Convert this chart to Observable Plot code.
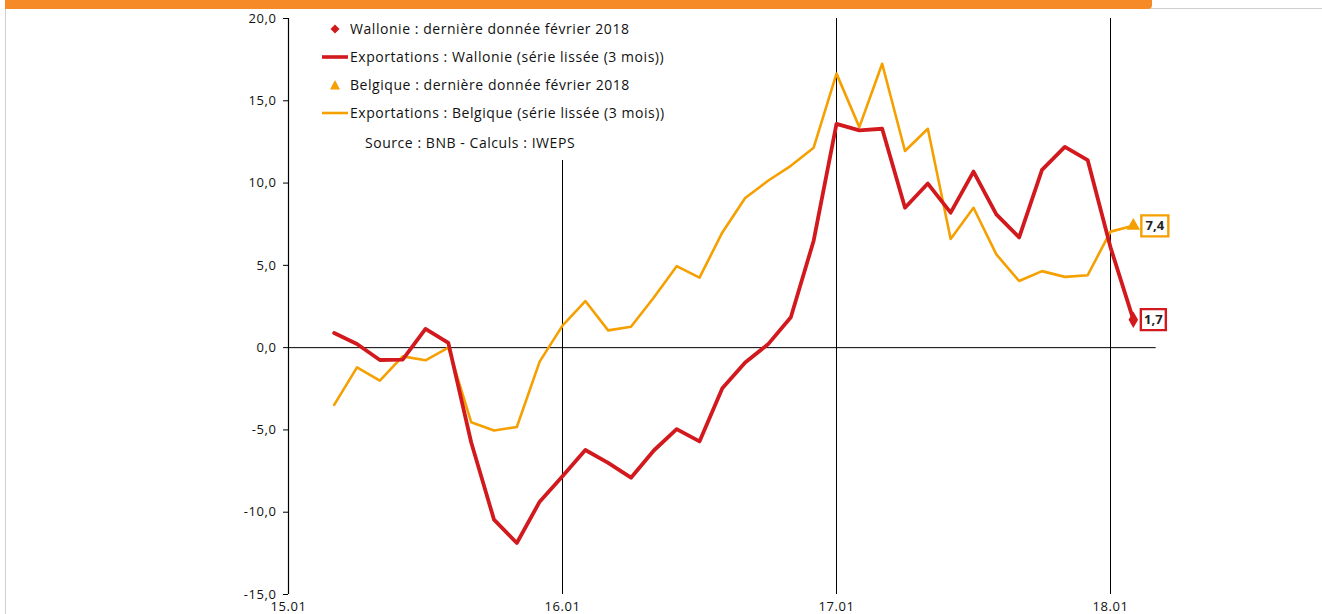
<!DOCTYPE html>
<html><head><meta charset="utf-8">
<script src="https://cdn.jsdelivr.net/npm/d3@7"></script>
<script src="https://cdn.jsdelivr.net/npm/@observablehq/plot@0.6"></script>
<style>
body{margin:0;background:#fff;font-family:"Open Sans",sans-serif;}
#wrap{position:relative;width:1322px;height:614px;overflow:hidden;background:#fff;}
#card{position:absolute;left:5px;top:8px;width:1330px;height:700px;border-left:1px solid #cfcfcf;border-top:1px solid #cfcfcf;}
#chart{position:absolute;left:0;top:0;}
#chart g[aria-label="y-axis tick label"] text, #chart g[aria-label="x-axis tick label"] text{letter-spacing:0.6px;}
#bar{position:absolute;left:5px;top:0;width:1147px;height:9px;background:#F58A27;border-bottom-right-radius:4px;}
#legend{position:absolute;left:298px;top:15px;width:390px;height:145px;background:#fff;}
.lg{position:absolute;font-size:14px;font-weight:500;letter-spacing:0.55px;color:#111;white-space:nowrap;line-height:16px;}
.sym{position:absolute;}
</style></head><body>
<div id="wrap">
  <div id="card"></div>
  <div id="chart"></div>
  <div id="bar"></div>
  <div id="legend"></div>
</div>
<script>
const months = ["2015-03","2015-04","2015-05","2015-06","2015-07","2015-08","2015-09","2015-10","2015-11","2015-12",
  "2016-01","2016-02","2016-03","2016-04","2016-05","2016-06","2016-07","2016-08","2016-09","2016-10","2016-11","2016-12",
  "2017-01","2017-02","2017-03","2017-04","2017-05","2017-06","2017-07","2017-08","2017-09","2017-10","2017-11","2017-12",
  "2018-01","2018-02"];
const wallonie = [0.89,0.22,-0.75,-0.73,1.14,0.29,-5.75,-10.45,-11.87,-9.36,
  -7.82,-6.22,-7.0,-7.9,-6.25,-4.95,-5.7,-2.47,-0.9,0.2,1.85,6.5,
  13.6,13.2,13.3,8.5,9.97,8.2,10.7,8.1,6.7,10.8,12.2,11.4,
  6.1,1.7];
const belgique = [-3.48,-1.2,-2.0,-0.53,-0.77,0.0,-4.53,-5.04,-4.82,-0.85,
  1.34,2.83,1.05,1.27,3.05,4.95,4.25,7.0,9.09,10.14,11.05,12.15,
  16.65,13.4,17.25,11.95,13.3,6.6,8.5,5.67,4.05,4.65,4.3,4.4,
  7.05,7.4];
const xTickMonths = ["2015-01","2016-01","2017-01","2018-01"];
const xTickLabels = ["15.01","16.01","17.01","18.01"];
const yTicks = [-15,-10,-5,0,5,10,15,20];
const axisEndMonth = "2018-03";
const legendItems = [
  {type:"diamond", color:"red", label:"Wallonie : dernière donnée février 2018"},
  {type:"line", color:"red", label:"Exportations : Wallonie (série lissée (3 mois))"},
  {type:"triangle", color:"orange", label:"Belgique : dernière donnée février 2018"},
  {type:"line", color:"orange", label:"Exportations : Belgique (série lissée (3 mois))"}
];
const sourceText = "Source : BNB - Calculs : IWEPS";

const RED = "#D2191E", ORANGE = "#F5A000";
const colors = {red: RED, orange: ORANGE};
const idx = s => { const [y, m] = s.split("-").map(Number); return (y - 2015) * 12 + (m - 1); };
const fmt = v => v.toFixed(1).replace(".", ",");
const data = months.map((m, i) => ({t: idx(m), w: wallonie[i], b: belgique[i]}));
const last = data[data.length - 1];
const tickIdx = xTickMonths.map(idx);
const boxSym = (w, h) => ({draw(ctx){ ctx.rect(-w/2, -h/2, w, h); }});

const plot = Plot.plot({
  width: 1322, height: 614,
  marginLeft: 288, marginRight: 212, marginTop: 18, marginBottom: 20,
  x: {domain: [tickIdx[0], tickIdx[3]], range: [288, 1110], label: null},
  y: {domain: [-15, 20], range: [594, 18], label: null},
  style: {fontFamily: '"Open Sans", sans-serif', background: "transparent", color: "#111"},
  marks: [
    Plot.ruleX(tickIdx.slice(1), {y1: -15, y2: 20, stroke: "#000", strokeWidth: 1}),
    Plot.ruleX([tickIdx[0]], {y1: -15, y2: 20, stroke: "#000", strokeWidth: 1.2}),
    Plot.ruleY([0], {x1: tickIdx[0], x2: idx(axisEndMonth), stroke: "#000", strokeWidth: 1}),
    Plot.axisY({ticks: yTicks, tickFormat: fmt, tickSize: 5, tickPadding: 7, fontSize: 13, fontWeight: 500, stroke: "#000", label: null}),
    Plot.axisX({ticks: tickIdx, tickFormat: d => xTickLabels[tickIdx.indexOf(d)], tickSize: 0, tickPadding: 7, fontSize: 13, fontWeight: 500, label: null}),
    Plot.line(data, {x: "t", y: "b", stroke: ORANGE, strokeWidth: 2.6}),
    Plot.line(data, {x: "t", y: "w", stroke: RED, strokeWidth: 3.8}),
    Plot.dot([last], {x: "t", y: "w", symbol: "diamond", fill: RED, r: 5}),
    Plot.dot([last], {x: "t", y: "b", symbol: "triangle", fill: ORANGE, r: 5}),
    Plot.dot([last], {x: "t", y: "b", symbol: boxSym(27, 21), fill: "#fff", stroke: ORANGE, strokeWidth: 2.4, dx: 21.5}),
    Plot.dot([last], {x: "t", y: "w", symbol: boxSym(25, 21), fill: "#fff", stroke: RED, strokeWidth: 2.4, dx: 20}),
    Plot.text([last], {x: "t", y: "b", text: d => fmt(d.b), dx: 21.5, fontSize: 13, fontWeight: "bold", fill: "#222"}),
    Plot.text([last], {x: "t", y: "w", text: d => fmt(d.w), dx: 20, fontSize: 13, fontWeight: "bold", fill: "#222"})
  ]
});
document.getElementById("chart").appendChild(plot);

// legend overlay
const wrap = document.getElementById("wrap");
const rowY = [29, 57, 85, 113];
legendItems.forEach((it, i) => {
  const c = colors[it.color];
  const y = rowY[i];
  const s = document.createElementNS("http://www.w3.org/2000/svg", "svg");
  s.setAttribute("class", "sym");
  s.setAttribute("width", 30); s.setAttribute("height", 12);
  s.style.left = "320px"; s.style.top = (y - 6) + "px";
  if (it.type === "line") {
    s.innerHTML = `<line x1="2" x2="28" y1="6" y2="6" stroke="${c}" stroke-width="${it.color === "red" ? 3.6 : 2.6}"/>`;
  } else if (it.type === "diamond") {
    s.innerHTML = `<path d="M15,1.5 L19.5,6 L15,10.5 L10.5,6 Z" fill="${c}"/>`;
  } else {
    s.innerHTML = `<path d="M15,1 L20,10.5 L10,10.5 Z" fill="${c}"/>`;
  }
  wrap.appendChild(s);
  const t = document.createElement("div");
  t.className = "lg"; t.textContent = it.label;
  t.style.left = "350px"; t.style.top = (y - 8) + "px";
  wrap.appendChild(t);
});
const src = document.createElement("div");
src.className = "lg"; src.textContent = sourceText;
src.style.left = "365px"; src.style.top = (143 - 8) + "px";
wrap.appendChild(src);
</script>
</body></html>
